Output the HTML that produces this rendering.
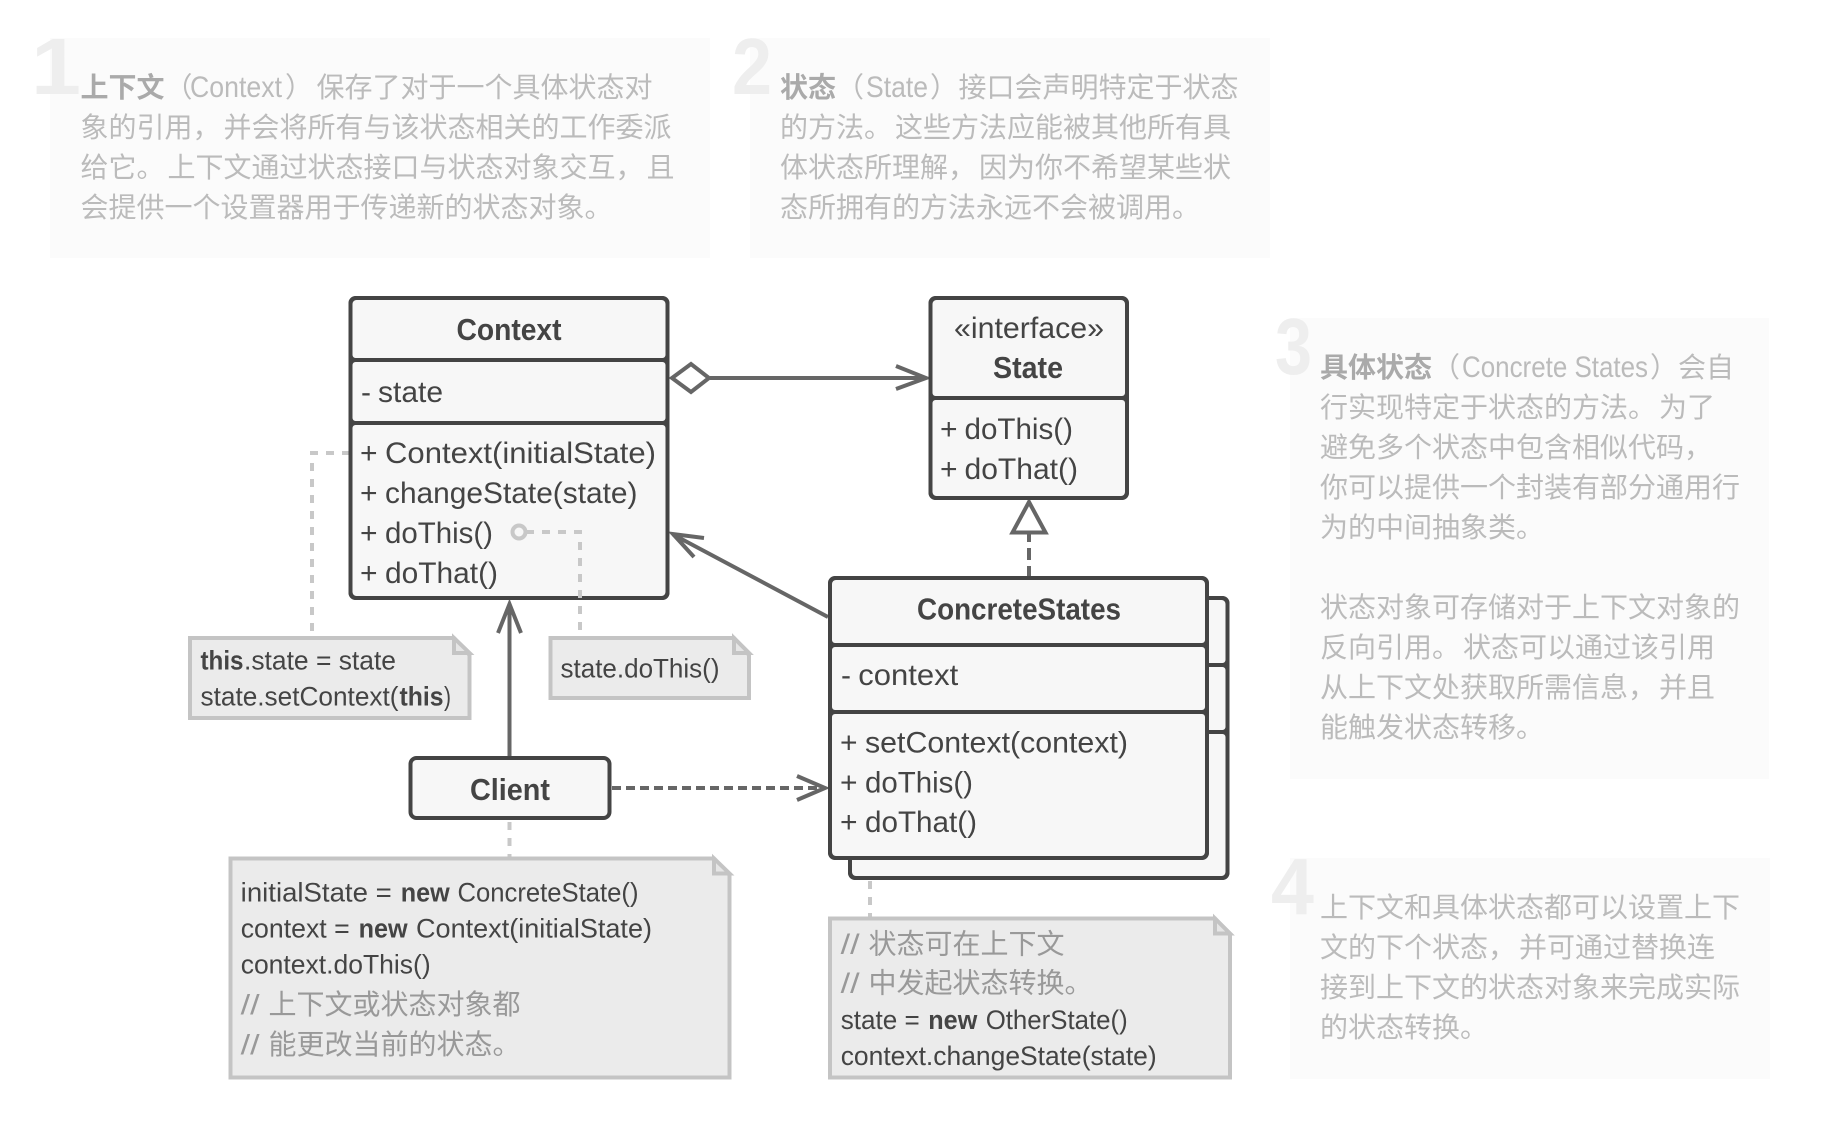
<!DOCTYPE html>
<html lang="zh"><head><meta charset="utf-8"><title>State pattern</title>
<style>
html,body{margin:0;padding:0;background:#fff}
svg{display:block}
text{font-family:"Liberation Sans","Noto Sans CJK SC",sans-serif;font-size:28px;fill:#444}
.d{fill:#bbb}
.db{fill:#aaa;font-weight:bold}
.dl{fill:#bbb;font-size:30px}
.n{fill:#eee;font-weight:bold;font-size:80px}
.t{font-size:30px}
.h{font-size:31px;font-weight:bold}
.b{font-weight:bold}
.s{font-size:27px}
.c{fill:#999}
.box{fill:#f7f7f7;stroke:#444;stroke-width:4}
.o{fill:none;stroke:#444;stroke-width:4}
.note{fill:#ebebeb;stroke:#c4c4c4;stroke-width:4}
.fold{fill:#e6e6e6;stroke:#c4c4c4;stroke-width:4}
.ln{fill:none;stroke:#666;stroke-width:4}
.dot{fill:none;stroke:#c8c8c8;stroke-width:4;stroke-dasharray:8 8}
</style></head><body>
<svg xmlns="http://www.w3.org/2000/svg" width="1838" height="1146" viewBox="0 0 1838 1146">
<rect width="1838" height="1146" fill="#fff"/>
<!-- description panels -->
<rect x="50" y="38" width="660" height="220" fill="#fbfbfb"/>
<rect x="750" y="38" width="520" height="220" fill="#fbfbfb"/>
<rect x="1290" y="318" width="479" height="461" fill="#fbfbfb"/>
<rect x="1290" y="858" width="480" height="221" fill="#fbfbfb"/>
<text class="n" x="31" y="94" textLength="50" lengthAdjust="spacingAndGlyphs">1</text>
<text class="n" x="732" y="94" textLength="40" lengthAdjust="spacingAndGlyphs">2</text>
<text class="n" x="1275" y="374" textLength="37" lengthAdjust="spacingAndGlyphs">3</text>
<text class="n" x="1271" y="914" textLength="43" lengthAdjust="spacingAndGlyphs">4</text>

<text class="db" x="80.500" y="97">上下文</text><text class="d" x="164.500" y="97">（</text><text class="dl" x="190" y="97" textLength="92" lengthAdjust="spacingAndGlyphs">Context</text><text class="d" x="285" y="97">）</text><text class="d" x="316.500" y="97">保存了对于一个具体状态对</text>
<text class="d" x="80.500" y="137">象的引用，<tspan dx="3">并会将所有与该状态相关的工作委派</tspan></text>
<text class="d" x="80.500" y="177">给它。<tspan dx="3">上下文通过状态接口与状态对象交互，</tspan><tspan dx="3">且</tspan></text>
<text class="d" x="80.500" y="217">会提供一个设置器用于传递新的状态对象。</text>

<text class="db" x="780" y="97">状态</text><text class="d" x="836" y="97">（</text><text class="dl" x="866" y="97" textLength="62" lengthAdjust="spacingAndGlyphs">State</text><text class="d" x="930" y="97">）</text><text class="d" x="958.500" y="97">接口会声明特定于状态</text>
<text class="d" x="780" y="137">的方法。<tspan dx="3">这些方法应能被其他所有具</tspan></text>
<text class="d" x="780" y="177">体状态所理解，<tspan dx="3">因为你不希望某些状</tspan></text>
<text class="d" x="780" y="217">态所拥有的方法永远不会被调用。</text>

<text class="db" x="1320" y="377">具体状态</text><text class="d" x="1432" y="377">（</text><text class="dl" x="1462" y="377" textLength="186" lengthAdjust="spacingAndGlyphs">Concrete States</text><text class="d" x="1650" y="377">）</text><text class="d" x="1678" y="377">会自</text>
<text class="d" x="1320" y="417">行实现特定于状态的方法。<tspan dx="3">为了</tspan></text>
<text class="d" x="1320" y="457">避免多个状态中包含相似代码，</text>
<text class="d" x="1320" y="497">你可以提供一个封装有部分通用行</text>
<text class="d" x="1320" y="537">为的中间抽象类。</text>
<text class="d" x="1320" y="617">状态对象可存储对于上下文对象的</text>
<text class="d" x="1320" y="657">反向引用。<tspan dx="3">状态可以通过该引用</tspan></text>
<text class="d" x="1320" y="697">从上下文处获取所需信息，<tspan dx="3">并且</tspan></text>
<text class="d" x="1320" y="737">能触发状态转移。</text>

<text class="d" x="1320" y="917">上下文和具体状态都可以设置上下</text>
<text class="d" x="1320" y="957">文的下个状态，<tspan dx="3">并可通过替换连</tspan></text>
<text class="d" x="1320" y="997">接到上下文的状态对象来完成实际</text>
<text class="d" x="1320" y="1037">的状态转换。</text>

<!-- dotted note connectors (behind boxes) -->
<path class="dot" d="M350 453H312V636"/>
<path class="dot" d="M509.500 822V857"/>
<path class="dot" d="M870 881V917"/>

<!-- connectors -->
<path class="ln" d="M710 378H926M896 366L926 378L896 389"/>
<path d="M672 378L691 364L709 378L691 392Z" fill="#fff" stroke="#666" stroke-width="4"/>
<path class="ln" d="M828 617L673 534.500M704 538L673 534L694 557"/>
<path class="ln" d="M509.500 757V604M498 633L509.500 604L521 633"/>
<path class="ln" d="M612 788H824" stroke-dasharray="9 5"/>
<path class="ln" d="M797 776L825 788L797 800"/>
<path class="ln" d="M1029 578V534" stroke-dasharray="12 6"/>
<path d="M1029 502L1012.500 532.500H1045.500Z" fill="#fff" stroke="#666" stroke-width="4"/>

<!-- Context -->
<rect class="box" x="350.500" y="298" width="317" height="62" rx="5"/>
<rect class="box" x="350.500" y="360" width="317" height="63" rx="5"/>
<rect class="box" x="350.500" y="423" width="317" height="175" rx="5"/>
<rect class="o" x="350.500" y="298" width="317" height="300" rx="6"/>
<text class="h" x="456.500" y="340" textLength="105" lengthAdjust="spacingAndGlyphs">Context</text>
<text class="t" x="361" y="402">-</text><text class="t" x="378" y="402" textLength="65" lengthAdjust="spacingAndGlyphs">state</text>
<text class="t" x="360" y="463">+</text><text class="t" x="385" y="463" textLength="271" lengthAdjust="spacingAndGlyphs">Context(initialState)</text>
<text class="t" x="360" y="503">+</text><text class="t" x="385" y="503" textLength="252.500" lengthAdjust="spacingAndGlyphs">changeState(state)</text>
<text class="t" x="360" y="543">+</text><text class="t" x="385" y="543" textLength="108" lengthAdjust="spacingAndGlyphs">doThis()</text>
<text class="t" x="360" y="583">+</text><text class="t" x="385" y="583" textLength="113" lengthAdjust="spacingAndGlyphs">doThat()</text>
<circle cx="519" cy="532" r="6.500" fill="#f7f7f7" stroke="#c8c8c8" stroke-width="4"/>
<path class="dot" d="M526 532H580V636"/>

<!-- State -->
<rect class="box" x="930.500" y="298" width="196.500" height="100" rx="5"/>
<rect class="box" x="930.500" y="398" width="196.500" height="100" rx="5"/>
<rect class="o" x="930.500" y="298" width="196.500" height="200" rx="6"/>
<text class="t" x="954" y="338" textLength="150" lengthAdjust="spacingAndGlyphs">«interface»</text>
<text class="h" x="993" y="378" textLength="70" lengthAdjust="spacingAndGlyphs">State</text>
<text class="t" x="940" y="439">+</text><text class="t" x="964.500" y="439" textLength="108.500" lengthAdjust="spacingAndGlyphs">doThis()</text>
<text class="t" x="940" y="479">+</text><text class="t" x="964.500" y="479" textLength="113.500" lengthAdjust="spacingAndGlyphs">doThat()</text>

<!-- ConcreteStates back -->
<rect class="box" x="850" y="598" width="377.500" height="67" rx="5"/>
<rect class="box" x="850" y="665" width="377.500" height="67" rx="5"/>
<rect class="box" x="850" y="732" width="377.500" height="146" rx="5"/>
<rect class="o" x="850" y="598" width="377.500" height="280" rx="6"/>
<!-- ConcreteStates front -->
<rect class="box" x="830" y="578" width="377" height="67" rx="5"/>
<rect class="box" x="830" y="645" width="377" height="67" rx="5"/>
<rect class="box" x="830" y="712" width="377" height="146" rx="5"/>
<rect class="o" x="830" y="578" width="377" height="280" rx="6"/>
<text class="h" x="917" y="619.500" textLength="204" lengthAdjust="spacingAndGlyphs">ConcreteStates</text>
<text class="t" x="841" y="685">-</text><text class="t" x="858.300" y="685" textLength="100" lengthAdjust="spacingAndGlyphs">context</text>
<text class="t" x="840" y="752.500">+</text><text class="t" x="865" y="752.500" textLength="263" lengthAdjust="spacingAndGlyphs">setContext(context)</text>
<text class="t" x="840" y="792.500">+</text><text class="t" x="865" y="792.500" textLength="108" lengthAdjust="spacingAndGlyphs">doThis()</text>
<text class="t" x="840" y="832">+</text><text class="t" x="865" y="832" textLength="112" lengthAdjust="spacingAndGlyphs">doThat()</text>

<!-- Client -->
<rect class="box" x="410.500" y="758" width="199" height="60" rx="6"/>
<text class="h" x="470" y="800" textLength="80" lengthAdjust="spacingAndGlyphs">Client</text>

<!-- note: this.state -->
<path class="note" d="M190 638H454L469.500 655V718H190Z"/>
<path class="fold" d="M454 638V653H469.500Z"/>
<text class="s b" x="200.500" y="669.500" textLength="43" lengthAdjust="spacingAndGlyphs">this</text>
<text class="s" x="244" y="669.500" textLength="152" lengthAdjust="spacingAndGlyphs">.state = state</text>
<text class="s" x="200.500" y="705.500" textLength="198" lengthAdjust="spacingAndGlyphs">state.setContext(</text>
<text class="s b" x="399.500" y="705.500" textLength="44" lengthAdjust="spacingAndGlyphs">this</text>
<text class="s" x="444" y="705.500" textLength="7" lengthAdjust="spacingAndGlyphs">)</text>

<!-- note: state.doThis -->
<path class="note" d="M550.500 638H734L749 655V698H550.500Z"/>
<path class="fold" d="M734 638V653H749Z"/>
<text class="s" x="560.500" y="677.500" textLength="159" lengthAdjust="spacingAndGlyphs">state.doThis()</text>

<!-- note: client -->
<path class="note" d="M230.500 858.500H714L729.500 875V1077.500H230.500Z"/>
<path class="fold" d="M714 858.500V873.500H729.500Z"/>
<text class="s" x="240.700" y="901.500" textLength="151" lengthAdjust="spacingAndGlyphs">initialState =</text>
<text class="s b" x="400.700" y="901.500" textLength="49" lengthAdjust="spacingAndGlyphs">new</text>
<text class="s" x="457.500" y="901.500" textLength="181" lengthAdjust="spacingAndGlyphs">ConcreteState()</text>
<text class="s" x="240.700" y="937.500" textLength="109" lengthAdjust="spacingAndGlyphs">context =</text>
<text class="s b" x="358.600" y="937.500" textLength="49" lengthAdjust="spacingAndGlyphs">new</text>
<text class="s" x="416" y="937.500" textLength="236" lengthAdjust="spacingAndGlyphs">Context(initialState)</text>
<text class="s" x="240.700" y="973.500" textLength="190" lengthAdjust="spacingAndGlyphs">context.doThis()</text>
<text class="c" x="240.700" y="1014" textLength="19" lengthAdjust="spacingAndGlyphs">//</text>
<text class="c" x="268.500" y="1014">上下文或状态对象都</text>
<text class="c" x="240.700" y="1054" textLength="19" lengthAdjust="spacingAndGlyphs">//</text>
<text class="c" x="268.500" y="1054">能更改当前的状态。</text>

<!-- note: concrete -->
<path class="note" d="M830 918.500H1215L1230 935V1077.500H830Z"/>
<path class="fold" d="M1215 918.500V933.500H1230Z"/>
<text class="c" x="840.700" y="953.500" textLength="19" lengthAdjust="spacingAndGlyphs">//</text>
<text class="c" x="868.500" y="953.500">状态可在上下文</text>
<text class="c" x="840.700" y="992.500" textLength="19" lengthAdjust="spacingAndGlyphs">//</text>
<text class="c" x="868.500" y="992.500">中发起状态转换。</text>
<text class="s" x="840.700" y="1029" textLength="79" lengthAdjust="spacingAndGlyphs">state =</text>
<text class="s b" x="928.300" y="1029" textLength="49" lengthAdjust="spacingAndGlyphs">new</text>
<text class="s" x="985.700" y="1029" textLength="142" lengthAdjust="spacingAndGlyphs">OtherState()</text>
<text class="s" x="840.700" y="1065" textLength="316" lengthAdjust="spacingAndGlyphs">context.changeState(state)</text>
</svg>
</body></html>
